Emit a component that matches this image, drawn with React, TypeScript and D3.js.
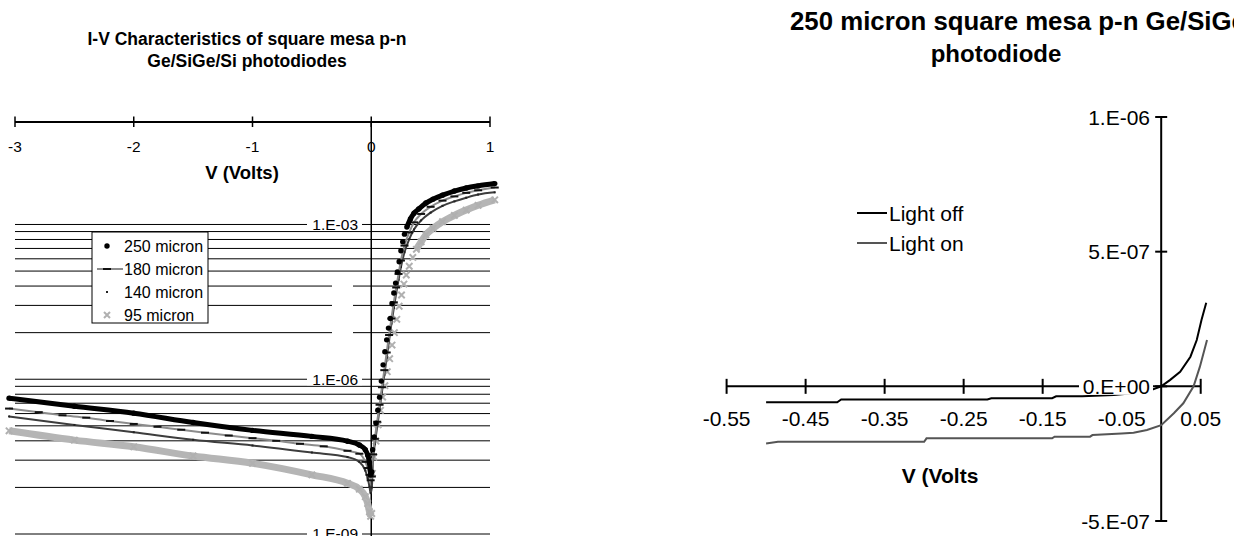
import React from "react";
import * as d3 from "d3";

const W = 1234;
const H = 536;
const FONT = "'Liberation Sans', Arial, Helvetica, sans-serif";

// ---------- left chart: I-V characteristics, log current ----------
const leftTitle = ["I-V Characteristics of square mesa p-n", "Ge/SiGe/Si photodiodes"];
const leftXTicks = [-3, -2, -1, 0, 1];
const leftMajors = [1e-9, 1e-6, 1e-3];
const leftMajorLabels = ["1.E-09", "1.E-06", "1.E-03"];
// excel minor grid (k^3 steps between the 1000x majors)
const minorFactors = [8, 27, 64, 125, 216, 343, 512, 729];
const legendNames = ["250 micron", "180 micron", "140 micron", "95 micron"];

const v250 = [-3.05, -2.5, -2.0, -1.5, -1.0, -0.5, -0.2, -0.1, -0.05, -0.03, -0.015, -0.005,
  0.005, 0.012, 0.025, 0.04, 0.055, 0.07, 0.085, 0.1, 0.115, 0.13, 0.145, 0.16, 0.175, 0.19,
  0.205, 0.22, 0.235, 0.25, 0.265, 0.28, 0.3, 0.33, 0.36, 0.4, 0.46, 0.52, 0.6, 0.7, 0.8, 0.9, 1.04];
const i250 = [4.3e-7, 3.0e-7, 2.2e-7, 1.45e-7, 1.02e-7, 7.8e-8, 6.3e-8, 5.3e-8, 4.3e-8, 3.4e-8, 2.4e-8, 1.4e-8,
  1.6e-8, 4.3e-8, 7.6e-8, 1.4e-7, 2.5e-7, 4.5e-7, 9.2e-7, 1.9e-6, 3.4e-6, 5.8e-6, 9.8e-6, 1.5e-5, 2.9e-5, 4.7e-5,
  7.3e-5, 1.2e-4, 1.9e-4, 3.1e-4, 4.6e-4, 6.5e-4, 8.9e-4, 1.28e-3, 1.65e-3, 2.0e-3, 2.6e-3, 3.1e-3, 3.7e-3, 4.45e-3, 5.1e-3, 5.6e-3, 6.2e-3];

const v180 = [-3.05, -2.8, -2.6, -2.4, -2.2, -2.0, -1.8, -1.6, -1.4, -1.2, -1.0, -0.8, -0.6, -0.4, -0.2, -0.1, -0.05, -0.03, -0.015, -0.005,
  0.005, 0.015, 0.03, 0.05, 0.07, 0.09, 0.11, 0.13, 0.15, 0.17, 0.19, 0.21, 0.23, 0.25, 0.28, 0.32, 0.36, 0.42, 0.5, 0.6, 0.7, 0.8, 0.9, 1.04];
const i180 = [2.7e-7, 2.3e-7, 2.0e-7, 1.8e-7, 1.55e-7, 1.36e-7, 1.2e-7, 1.05e-7, 9.2e-8, 8.1e-8, 7.2e-8, 6.4e-8, 5.6e-8, 5.0e-8, 4.1e-8, 3.6e-8, 2.5e-8, 1.9e-8, 1.4e-8, 1.1e-8,
  1.3e-8, 3.5e-8, 7.0e-8, 1.5e-7, 3.2e-7, 7.0e-7, 1.5e-6, 3.3e-6, 7.2e-6, 1.5e-5, 3.1e-5, 6.0e-5, 1.1e-4, 2.0e-4, 3.9e-4, 7.0e-4, 1.1e-3, 1.6e-3, 2.2e-3, 2.9e-3, 3.5e-3, 4.1e-3, 4.6e-3, 5.2e-3];

const v140 = [-3.05, -2.5, -2.0, -1.5, -1.0, -0.5, -0.2, -0.1, -0.05, -0.03, -0.015, -0.005,
  0.005, 0.015, 0.03, 0.05, 0.07, 0.09, 0.11, 0.13, 0.15, 0.17, 0.19, 0.21, 0.23, 0.25, 0.28, 0.32, 0.36, 0.42, 0.5, 0.6, 0.7, 0.8, 0.9, 1.04];
const i140 = [1.9e-7, 1.3e-7, 9.4e-8, 6.7e-8, 5.2e-8, 3.8e-8, 3.1e-8, 2.5e-8, 1.7e-8, 1.2e-8, 8.3e-9, 6.2e-9,
  8.0e-9, 2.6e-8, 5.5e-8, 1.2e-7, 2.6e-7, 5.6e-7, 1.2e-6, 2.6e-6, 5.6e-6, 1.2e-5, 2.4e-5, 4.6e-5, 8.5e-5, 1.5e-4, 2.9e-4, 5.2e-4, 8.0e-4, 1.2e-3, 1.7e-3, 2.3e-3, 2.8e-3, 3.3e-3, 3.8e-3, 4.2e-3];

const v95 = [-3.05, -2.5, -2.0, -1.5, -1.0, -0.5, -0.2, -0.1, -0.05, -0.03, -0.015, -0.005,
  0.004, 0.01, 0.024, 0.04, 0.058, 0.078, 0.096, 0.115, 0.135, 0.155, 0.175, 0.195, 0.215, 0.235, 0.255, 0.275, 0.295,
  0.32, 0.35, 0.38, 0.42, 0.46, 0.52, 0.6, 0.7, 0.8, 0.9, 1.04];
const i95 = [1.0e-7, 6.6e-8, 4.9e-8, 3.25e-8, 2.35e-8, 1.4e-8, 9.6e-9, 7.4e-9, 5.3e-9, 3.9e-9, 2.7e-9, 2.2e-9,
  2.5e-9, 1.5e-8, 3.1e-8, 6.3e-8, 1.3e-7, 2.5e-7, 4.5e-7, 7.5e-7, 1.4e-6, 2.5e-6, 4.6e-6, 8.0e-6, 1.45e-5, 2.6e-5, 4.3e-5, 7.0e-5, 1.05e-4,
  1.55e-4, 2.3e-4, 3.3e-4, 4.6e-4, 6.3e-4, 8.4e-4, 1.13e-3, 1.5e-3, 1.9e-3, 2.35e-3, 3.0e-3];

// ---------- right chart: 250 micron, light off / on ----------
const rightTitle = ["250 micron square mesa p-n Ge/SiGe/Si", "photodiode"];
const rightXTicks = [-0.55, -0.45, -0.35, -0.25, -0.15, -0.05, 0.05];
const rightYTicks = [1e-6, 5e-7, 0, -5e-7];
const rightYLabels = ["1.E-06", "5.E-07", "0.E+00", "-5.E-07"];
const rightNames = ["Light off", "Light on"];

const vOff = [-0.5, -0.41, -0.405, -0.22, -0.215, -0.138, -0.133, -0.1, -0.06, -0.03, -0.018, 0,
  0.011, 0.024, 0.037, 0.045, 0.051, 0.057];
const iOff = [-5.9e-8, -5.9e-8, -4.9e-8, -4.9e-8, -4.4e-8, -4.4e-8, -3.7e-8, -3.7e-8, -3.2e-8, -2.4e-8, -1.9e-8, 0,
  2.3e-8, 5.4e-8, 1.1e-7, 1.72e-7, 2.46e-7, 3.1e-7];

const vOn = [-0.5, -0.485, -0.3, -0.297, -0.138, -0.135, -0.09, -0.087, -0.05, -0.035, -0.018, 0,
  0.016, 0.028, 0.041, 0.049, 0.058];
const iOn = [-2.12e-7, -2.06e-7, -2.06e-7, -1.93e-7, -1.93e-7, -1.87e-7, -1.87e-7, -1.81e-7, -1.75e-7, -1.72e-7, -1.62e-7, -1.44e-7,
  -1.0e-7, -6.3e-8, 0, 7.3e-8, 1.72e-7];

type Pt = { v: number; a: number };
const pts = (v: number[], a: number[]): Pt[] => v.map((d, i) => ({ v: d, a: a[i] }));

export default function App() {
  // left scales
  const xL = d3.scaleLinear().domain([-3, 1]).range([15, 490]);
  const yL = d3.scaleLog().domain([1e-9, 1e-1]).range([534, 121.3]);
  const x0 = xL(0);

  const lineL = d3.line<Pt>().x(d => xL(d.v)).y(d => yL(d.a)).curve(d3.curveMonotoneX);
  // dense marker series read as a solid band except on the steep forward rise
  const bandL = (from: number) =>
    d3.line<Pt>().defined(d => d.v <= 0 || d.v >= from).x(d => xL(d.v)).y(d => yL(d.a)).curve(d3.curveMonotoneX);

  const s250 = pts(v250, i250);
  const s180 = pts(v180, i180);
  const s140 = pts(v140, i140);
  const s95 = pts(v95, i95);

  const grid: number[] = [];
  leftMajors.forEach(m => {
    grid.push(m);
    if (m < 1e-3) minorFactors.forEach(f => grid.push(m * f));
  });

  // right scales
  const xR = d3.scaleLinear().domain([-0.55, 0.05]).range([726.6, 1200.7]);
  const yR = d3.scaleLinear().domain([-5e-7, 1e-6]).range([521, 117]);
  const lineR = d3.line<Pt>().x(d => xR(d.v)).y(d => yR(d.a));
  const xR0 = xR(0);
  const yR0 = yR(0);

  const crossX = 4;

  return (
    <svg width={W} height={H} style={{ position: "absolute", left: 0, top: 0 }} fontFamily={FONT}>
      <rect width={W} height={H} fill="#fff" />

      {/* ===== left chart ===== */}
      <g>
        {leftTitle.map((t, i) => (
          <text key={t} x={247} y={45 + i * 21.7} textAnchor="middle" fontSize={17.5} fontWeight="bold">{t}</text>
        ))}

        {grid.map(g => (
          <line key={g} x1={15} x2={490} y1={yL(g)} y2={yL(g)} stroke="#000" strokeWidth={1} />
        ))}
        {/* blank patch breaking the mid gridlines */}
        <rect x={332} y={276} width={21} height={62} fill="#fff" />

        {/* y axis */}
        <line x1={x0} x2={x0} y1={122} y2={H + 5} stroke="#000" strokeWidth={1.5} />
        {leftMajors.map((m, i) => (
          <g key={m}>
            <rect x={307} y={yL(m) - 6} width={55} height={12} fill="#fff" />
            <text x={358} y={yL(m) + 5.4} textAnchor="end" fontSize={15.5}>{leftMajorLabels[i]}</text>
          </g>
        ))}

        {/* top x axis */}
        <line x1={xL(-3)} x2={xL(1)} y1={122} y2={122} stroke="#000" strokeWidth={1.8} />
        {leftXTicks.map(t => (
          <g key={t}>
            <line x1={xL(t)} x2={xL(t)} y1={116.5} y2={127} stroke="#000" strokeWidth={1.5} />
            <text x={xL(t)} y={151.7} textAnchor="middle" fontSize={15.5}>{t}</text>
          </g>
        ))}
        <text x={242} y={179} textAnchor="middle" fontSize={18.5} fontWeight="bold">V (Volts)</text>

        {/* 95 micron */}
        <path d={bandL(0.36)(s95) || ""} fill="none" stroke="#b5b5b5" strokeWidth={7} />
        {s95.map((d, i) => (
          <path key={i} transform={`translate(${xL(d.v)},${yL(d.a)})`} d="M-3.2,-3.2L3.2,3.2M-3.2,3.2L3.2,-3.2"
            stroke="#b0b0b0" strokeWidth={2} fill="none" />
        ))}
        {/* 140 micron */}
        <path d={lineL(s140) || ""} fill="none" stroke="#3d3d3d" strokeWidth={2} />
        {s140.map((d, i) => (
          <rect key={i} x={xL(d.v) - 1} y={yL(d.a) - 1} width={2} height={2} fill="#222" />
        ))}
        {/* 180 micron */}
        <path d={lineL(s180) || ""} fill="none" stroke="#8c8c8c" strokeWidth={2} />
        {s180.map((d, i) => (
          <line key={i} x1={xL(d.v) - crossX} x2={xL(d.v) + crossX} y1={yL(d.a)} y2={yL(d.a)} stroke="#111" strokeWidth={2} />
        ))}
        {/* 250 micron */}
        <path d={bandL(0.3)(s250) || ""} fill="none" stroke="#000" strokeWidth={5} />
        {s250.map((d, i) => (
          <circle key={i} cx={xL(d.v)} cy={yL(d.a)} r={2.7} fill="#000" />
        ))}

        {/* legend */}
        <rect x={92} y={232} width={116} height={91} fill="#fff" stroke="#000" strokeWidth={1} />
        {legendNames.map((n, i) => {
          const cy = 246 + i * 23;
          return (
            <g key={n}>
              {i === 0 && <circle cx={107} cy={cy} r={2.7} fill="#000" />}
              {i === 1 && (
                <g>
                  <line x1={97} x2={123} y1={cy} y2={cy} stroke="#8c8c8c" strokeWidth={2} />
                  <line x1={103} x2={111} y1={cy} y2={cy} stroke="#111" strokeWidth={2} />
                </g>
              )}
              {i === 2 && <rect x={106} y={cy - 1} width={2} height={2} fill="#222" />}
              {i === 3 && (
                <path transform={`translate(107,${cy})`} d="M-3,-3L3,3M-3,3L3,-3" stroke="#b0b0b0" strokeWidth={2} />
              )}
              <text x={124} y={cy + 5.7} fontSize={16}>{n}</text>
            </g>
          );
        })}
      </g>

      {/* ===== right chart ===== */}
      <g>
        <text x={790} y={30} fontSize={25.8} fontWeight="bold">{rightTitle[0]}</text>
        <text x={996} y={62} textAnchor="middle" fontSize={24} fontWeight="bold">{rightTitle[1]}</text>

        {/* x axis */}
        <line x1={xR(-0.55)} x2={xR(0.05)} y1={yR0} y2={yR0} stroke="#000" strokeWidth={2} />
        {rightXTicks.map(t => (
          <g key={t}>
            <line x1={xR(t)} x2={xR(t)} y1={yR0 - 7.5} y2={yR0 + 7.5} stroke="#000" strokeWidth={2} />
            <text x={xR(t)} y={425.5} textAnchor="middle" fontSize={21}>{t.toFixed(2)}</text>
          </g>
        ))}
        <text x={940} y={482.5} textAnchor="middle" fontSize={21} fontWeight="bold">V (Volts</text>

        {/* y axis */}
        <line x1={xR0} x2={xR0} y1={yR(1e-6)} y2={yR(-5e-7)} stroke="#000" strokeWidth={2} />
        {rightYTicks.map(t => (
          <line key={t} x1={xR0 - 6} x2={xR0 + 6} y1={yR(t)} y2={yR(t)} stroke="#000" strokeWidth={2} />
        ))}

        <path d={lineR(pts(vOn, iOn)) || ""} fill="none" stroke="#555" strokeWidth={2} />
        <path d={lineR(pts(vOff, iOff)) || ""} fill="none" stroke="#000" strokeWidth={2} />

        {rightYTicks.map((t, i) => (
          <g key={t}>
            <rect x={1079} y={yR(t) - 8.5} width={74} height={17} fill="#fff" />
            <text x={1150} y={yR(t) + 7.5} textAnchor="end" fontSize={21}>{rightYLabels[i]}</text>
          </g>
        ))}

        {/* legend */}
        {rightNames.map((n, i) => {
          const cy = 213 + i * 30;
          return (
            <g key={n}>
              <line x1={857} x2={887} y1={cy} y2={cy} stroke={i === 0 ? "#000" : "#555"} strokeWidth={2} />
              <text x={889} y={cy + 7.5} fontSize={21}>{n}</text>
            </g>
          );
        })}
      </g>
    </svg>
  );
}
